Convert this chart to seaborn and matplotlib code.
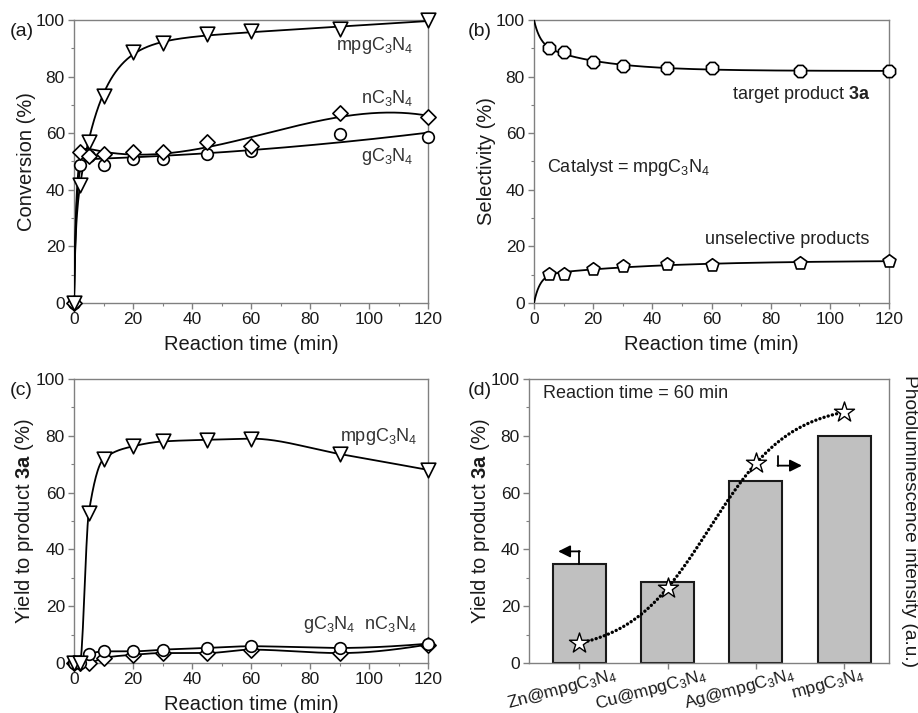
import itertools
import numpy as np
import pandas as pd
import matplotlib
matplotlib.use("Agg")
import matplotlib.pyplot as plt
import seaborn as sns
from matplotlib.ticker import MultipleLocator
from matplotlib.transforms import ScaledTranslation

# ---------------- data ----------------
time_a = [0, 2, 5, 10, 20, 30, 45, 60, 90, 120]
conv_mpg = [0, 41.8, 57, 73, 88.8, 91.8, 95, 96.1, 96.7, 100]
conv_n = [0, 53.2, 52, 52.6, 53.2, 53.2, 57, 55.5, 67, 65.9]
conv_g = [0, 48.8, 52, 48.6, 50.9, 50.8, 52.6, 53.8, 59.6, 58.8]

time_b = [5, 10, 20, 30, 45, 60, 90, 120]
sel_target = [90, 88.8, 85, 83.9, 83, 83, 82, 82]
sel_unsel = [10.1, 10.1, 12, 12.9, 13.7, 13.5, 14.3, 14.9]
sel_target_t0 = 100.0
sel_unsel_t0 = 0.0

time_c = [0, 2, 5, 10, 20, 30, 45, 60, 90, 120]
yield_mpg = [0, 0, 52.8, 71.8, 76.3, 78, 78.6, 79, 73.6, 68]
yield_g = [0, 0, 3, 4.1, 4.1, 4.7, 5.3, 5.9, 5.3, 6.8]
yield_n = [0, 0, 0, 1.8, 2.9, 3.5, 3.5, 4.7, 3.5, 6.5]

catalysts = ["Zn@mpgC3N4", "Cu@mpgC3N4", "Ag@mpgC3N4", "mpgC3N4"]
cat_labels = [r"Zn@mpgC$_3$N$_4$", r"Cu@mpgC$_3$N$_4$", r"Ag@mpgC$_3$N$_4$", r"mpgC$_3$N$_4$"]
yield_60 = [35, 28.5, 64, 80]
pl_intensity = [7, 26.4, 70.4, 88.3]   # plotted on left-axis scale


# ---------------- helpers ----------------
def expfit(t, y, taus_grid, n_exp, powers, tt, base=0.0):
    t = np.asarray(t, float)
    y = np.asarray(y, float) - base
    best = None
    for taus in itertools.combinations(taus_grid, n_exp):
        X = np.column_stack([1 - np.exp(-t / tau) for tau in taus] + [(t / 120.0) ** p for p in powers])
        coef, *_ = np.linalg.lstsq(X, y, rcond=None)
        r = np.sum((X @ coef - y) ** 2)
        if best is None or r < best[0]:
            best = (r, taus, coef)
    _, taus, coef = best
    Xe = np.column_stack([1 - np.exp(-tt / tau) for tau in taus] + [(tt / 120.0) ** p for p in powers])
    return base + Xe @ coef


def logistic_fit(x, y, xe):
    x = np.asarray(x, float)
    y = np.asarray(y, float)
    best = None
    for k in np.linspace(0.5, 5, 91):
        for x0 in np.linspace(0.5, 2.5, 81):
            s = 1 / (1 + np.exp(-k * (x - x0)))
            X = np.column_stack([np.ones_like(x), s])
            coef, *_ = np.linalg.lstsq(X, y, rcond=None)
            r = np.sum((X @ coef - y) ** 2)
            if best is None or r < best[0]:
                best = (r, k, x0, coef)
    _, k, x0, coef = best
    return coef[0] + coef[1] / (1 + np.exp(-k * (xe - x0)))


def pchip(x, y, xe):
    x = np.asarray(x, float)
    y = np.asarray(y, float)
    n = len(x)
    h = np.diff(x)
    dl = np.diff(y) / h
    d = np.zeros(n)
    for k in range(1, n - 1):
        if dl[k - 1] * dl[k] <= 0:
            d[k] = 0
        else:
            w1 = 2 * h[k] + h[k - 1]
            w2 = h[k] + 2 * h[k - 1]
            d[k] = (w1 + w2) / (w1 / dl[k - 1] + w2 / dl[k])

    def endslope(h0, h1, d0, d1):
        s = ((2 * h0 + h1) * d0 - h0 * d1) / (h0 + h1)
        if np.sign(s) != np.sign(d0):
            s = 0
        elif np.sign(d0) != np.sign(d1) and abs(s) > abs(3 * d0):
            s = 3 * d0
        return s

    d[0] = endslope(h[0], h[1], dl[0], dl[1])
    d[-1] = endslope(h[-1], h[-2], dl[-1], dl[-2])
    xe = np.asarray(xe, float)
    idx = np.clip(np.searchsorted(x, xe) - 1, 0, n - 2)
    hh = h[idx]
    s = (xe - x[idx]) / hh
    h00 = 2 * s**3 - 3 * s**2 + 1
    h10 = s**3 - 2 * s**2 + s
    h01 = -2 * s**3 + 3 * s**2
    h11 = s**3 - s**2
    return h00 * y[idx] + h10 * hh * d[idx] + h01 * y[idx + 1] + h11 * hh * d[idx + 1]


# ---------------- style ----------------
sns.set_theme(style="ticks")
plt.rcParams["font.family"] = ["Liberation Sans", "DejaVu Sans"]
plt.rcParams.update({
    "mathtext.fontset": "custom",
    "mathtext.rm": "Liberation Sans",
    "mathtext.sf": "Liberation Sans",
    "mathtext.it": "Liberation Sans:italic",
    "mathtext.bf": "Liberation Sans:bold",
})

SPINE = "#808080"
TXT = "#1a1a1a"
TICK_FS = 12.5
LAB_FS = 14.5
ANN_FS = 13

fig = plt.figure(figsize=(9.18, 7.13), dpi=100)
W, H = 918.0, 713.0


def add_ax(l, r, t, b):
    return fig.add_axes([l / W, 1 - b / H, (r - l) / W, (b - t) / H])


axa = add_ax(74, 428, 20, 303)
axb = add_ax(534, 889, 20, 303)
axc = add_ax(74, 428, 379, 663)
axd = add_ax(529, 889, 379, 663)


def style(ax, timeaxis=True):
    for sp in ax.spines.values():
        sp.set_visible(True)
        sp.set_color(SPINE)
        sp.set_linewidth(1.0)
    ax.set_facecolor("white")
    ax.tick_params(which="major", direction="out", length=4, width=1, color=SPINE,
                   labelsize=TICK_FS, labelcolor=TXT, pad=2.5)
    ax.tick_params(which="minor", direction="out", length=2.5, width=0.8, color=SPINE)
    ax.set_ylim(0, 100)
    ax.yaxis.set_major_locator(MultipleLocator(20))
    ax.yaxis.set_minor_locator(MultipleLocator(10))
    if timeaxis:
        ax.set_xlim(0, 120)
        ax.xaxis.set_major_locator(MultipleLocator(20))
        ax.xaxis.set_minor_locator(MultipleLocator(10))
        ax.set_xlabel("Reaction time (min)", fontsize=LAB_FS, color=TXT, labelpad=6)


def markers(ax, x, y, marker, s):
    sns.scatterplot(x=x, y=y, ax=ax, marker=marker, s=s, color="white", edgecolor="black",
                    linewidth=1.2, zorder=4, clip_on=False, legend=False)


def curve(ax, x, y, lw=1.3, ls="-"):
    sns.lineplot(x=x, y=y, ax=ax, color="black", lw=lw, linestyle=ls, zorder=3, sort=False)


tt = np.linspace(0, 120, 600)

# ---------------- (a) ----------------
style(axa)
fit_mpg = expfit(time_a, conv_mpg, [0.5, 1, 1.5, 2, 3, 4, 6, 8, 10, 12, 15, 20, 25, 30], 2, [1], tt)
fit_n = expfit(time_a, conv_n, [0.8, 1, 1.3, 1.6, 2, 2.5, 3], 1, [1, 2, 3], tt)
fit_g = expfit(time_a, conv_g, [0.8, 1, 1.3, 1.6, 2, 2.5, 3], 1, [1, 2], tt)
curve(axa, tt, fit_mpg)
curve(axa, tt, fit_n)
curve(axa, tt, fit_g)
markers(axa, time_a, conv_g, "o", 70)
markers(axa, time_a, conv_n, "D", 60)
markers(axa, time_a, conv_mpg, "v", 110)
axa.set_ylabel("Conversion (%)", fontsize=LAB_FS, color=TXT, labelpad=0)
axa.text(115, 91, r"mpgC$_3$N$_4$", ha="right", va="center", fontsize=ANN_FS, color="#333")
axa.text(115, 72.4, r"nC$_3$N$_4$", ha="right", va="center", fontsize=ANN_FS, color="#333")
axa.text(115, 51.6, r"gC$_3$N$_4$", ha="right", va="center", fontsize=ANN_FS, color="#333")

# ---------------- (b) ----------------
style(axb)
taus_b = [2, 2.5, 3, 4, 5, 6, 8, 10, 12, 15, 20, 30, 40]
fit_t = expfit(time_b, sel_target, taus_b, 2, [], tt, base=sel_target_t0)
fit_u = expfit(time_b, sel_unsel, taus_b, 2, [], tt, base=sel_unsel_t0)
curve(axb, tt, fit_t)
curve(axb, tt, fit_u)
markers(axb, time_b, sel_target, "8", 90)
markers(axb, time_b, sel_unsel, "p", 95)
axb.set_ylabel("Selectivity (%)", fontsize=LAB_FS, color=TXT, labelpad=0)
axb.text(113.6, 73.5, r"target product $\mathbf{3a}$", ha="right", va="center", fontsize=ANN_FS, color="#222")
axb.text(4.4, 48, r"Catalyst = mpgC$_3$N$_4$", ha="left", va="center", fontsize=ANN_FS, color="#222")
axb.text(113.3, 22.6, "unselective products", ha="right", va="center", fontsize=ANN_FS, color="#222")

# ---------------- (c) ----------------
style(axc)
curve(axc, tt, pchip(time_c, yield_mpg, tt))
curve(axc, tt, pchip(time_c, yield_n, tt))
curve(axc, tt, pchip(time_c, yield_g, tt))
markers(axc, time_c, yield_n, "D", 60)
markers(axc, time_c, yield_g, "o", 70)
markers(axc, time_c, yield_mpg, "v", 110)
axc.set_ylabel(r"Yield to product $\mathbf{3a}$ (%)", fontsize=LAB_FS, color=TXT, labelpad=0)
axc.text(116.3, 79.6, r"mpgC$_3$N$_4$", ha="right", va="center", fontsize=ANN_FS, color="#333")
axc.text(116.3, 13.4, r"gC$_3$N$_4$  nC$_3$N$_4$", ha="right", va="center", fontsize=ANN_FS, color="#333")

# ---------------- (d) ----------------
style(axd, timeaxis=False)
pos = np.arange(len(catalysts))
dfd = pd.DataFrame({"pos": pos, "catalyst": catalysts, "yield": yield_60})
sns.barplot(data=dfd, x="pos", y="yield", ax=axd, native_scale=True, width=0.6,
            color="#c0c0c0", saturation=1, edgecolor="#1a1a1a", linewidth=1.5, zorder=2)
xs = np.linspace(pos[0], pos[-1], 300)
sns.lineplot(x=xs, y=logistic_fit(pos, pl_intensity, xs), ax=axd, color="black", lw=2.4,
             linestyle=(0, (0.05, 1.25)), zorder=3, sort=False)
for ln in axd.lines:
    ln.set_dash_capstyle("round")
sns.scatterplot(x=pos, y=pl_intensity, ax=axd, marker="*", s=230, color="white",
                edgecolor="black", linewidth=1.0, zorder=5, clip_on=False, legend=False)
axd.set_xlim(-0.57, 3.506)
axd.set_xticks(pos)
axd.set_xticks([], minor=True)
axd.set_xticklabels(cat_labels, rotation=15, ha="center", fontsize=TICK_FS)
axd.tick_params(axis="x", pad=0)
for lbl in axd.get_xticklabels():
    lbl.set_transform(lbl.get_transform() + ScaledTranslation(-17 / 100, 3 / 100, fig.dpi_scale_trans))
axd.set_xlabel("")
axd.set_ylabel(r"Yield to product $\mathbf{3a}$ (%)", fontsize=LAB_FS, color=TXT, labelpad=-1)
axd.text(1.058, 0.5, "Photoluminescence intensity (a.u.)", transform=axd.transAxes,
         rotation=270, ha="center", va="center", fontsize=13.8, color=TXT)
axd.text(0.039, 0.95, "Reaction time = 60 min", transform=axd.transAxes, ha="left",
         va="center", fontsize=ANN_FS, color="#222")
# arrows pointing to the relevant axis
axd.plot([pos[0], pos[0]], [yield_60[0], yield_60[0] + 4.3], color="black", lw=1.3, zorder=4)
axd.annotate("", xy=(pos[0] - 0.24, yield_60[0] + 4.3), xytext=(pos[0] + 0.006, yield_60[0] + 4.3),
             arrowprops=dict(arrowstyle="-|>", color="black", lw=1.3, mutation_scale=18,
                             shrinkA=0, shrinkB=0))
ya = pl_intensity[2] + 2.4
yb = pl_intensity[2] - 0.9
axd.plot([pos[2] + 0.25, pos[2] + 0.25], [ya, yb], color="black", lw=1.3, zorder=4)
axd.annotate("", xy=(pos[2] + 0.52, yb), xytext=(pos[2] + 0.244, yb),
             arrowprops=dict(arrowstyle="-|>", color="black", lw=1.3, mutation_scale=18,
                             shrinkA=0, shrinkB=0))

# ---------------- panel letters ----------------
for lab, (px, py) in {"(a)": (10, 31), "(b)": (468, 31), "(c)": (10, 391), "(d)": (468, 391)}.items():
    fig.text(px / W, 1 - py / H, lab, ha="left", va="center", fontsize=14, color=TXT)

fig.savefig("out.png", dpi=100, facecolor="white")
